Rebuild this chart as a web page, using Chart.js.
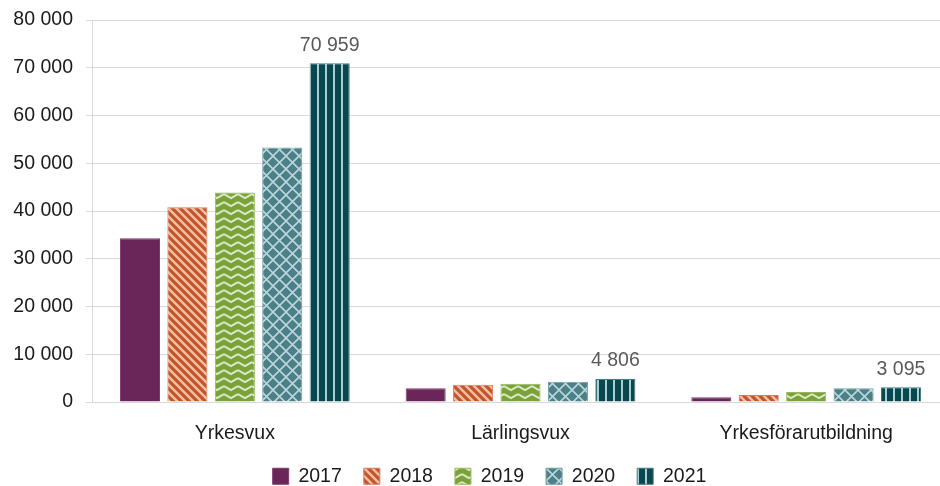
<!DOCTYPE html>
<html>
<head>
<meta charset="utf-8">
<script src="https://cdn.jsdelivr.net/npm/chart.js@4/dist/chart.umd.min.js"></script>
<style>
  html, body { margin: 0; padding: 0; background: #fff; overflow: hidden; }
  canvas { display: block; }
</style>
</head>
<body>
<canvas id="chart" width="949" height="496"></canvas>
<script>
const categories = ["Yrkesvux", "Lärlingsvux", "Yrkesförarutbildning"];
const years = ["2017", "2018", "2019", "2020", "2021"];
const v2017 = [34300, 2900, 1000];
const v2018 = [40800, 3600, 1450];
const v2019 = [43900, 3800, 2100];
const v2020 = [53300, 4250, 2900];
const v2021 = [70959, 4806, 3095];
const yTicks = [0, 10000, 20000, 30000, 40000, 50000, 60000, 70000, 80000];

const FONT = "'Liberation Sans', Arial, sans-serif";

function fmt(v) {
    return String(v).replace(/\B(?=(\d{3})+(?!\d))/g, " ");
}

function makePattern(w, h, base, draw) {
    const c = document.createElement("canvas");
    c.width = w; c.height = h;
    const x = c.getContext("2d");
    x.fillStyle = base;
    x.fillRect(0, 0, w, h);
    draw(x);
    return x.createPattern(c, "repeat");
}

// 2018: diagonal stripes
const pat2018 = makePattern(8, 8, "#c4552a", x => {
    x.strokeStyle = "#f0c0a8";
    x.lineWidth = 2.4;
    x.beginPath();
    x.moveTo(-2, -2); x.lineTo(10, 10);
    x.moveTo(-10, -2); x.lineTo(2, 10);
    x.moveTo(6, -2); x.lineTo(18, 10);
    x.stroke();
});

// 2019: zigzag waves
const pat2019 = makePattern(14, 8, "#7ba23a", x => {
    x.strokeStyle = "#dbe9c2";
    x.lineWidth = 2;
    x.beginPath();
    x.moveTo(0, 2); x.lineTo(7, 6); x.lineTo(14, 2);
    x.stroke();
});

// 2020: diamond lattice
const pat2020 = makePattern(13, 13, "#4b8089", x => {
    x.strokeStyle = "#bcd6da";
    x.lineWidth = 1.6;
    x.beginPath();
    x.moveTo(0, 0); x.lineTo(13, 13);
    x.moveTo(13, 0); x.lineTo(0, 13);
    x.stroke();
});

// 2021: vertical stripes
const pat2021 = makePattern(8, 4, "#0a4850", x => {
    x.fillStyle = "#a9cfd4";
    x.fillRect(5, 0, 2, 4);
});

const fills = ["#6a2659", pat2018, pat2019, pat2020, pat2021];
const borders = ["#7d3a6c", "#d77a55", "#94b862", "#6e9aa2", "#3f7c83"];
const series = [v2017, v2018, v2019, v2020, v2021];

const lastLabels = {
    id: "lastLabels",
    afterLayout(chart) {
        // nudge the legend a bit to the right, like the original
        chart.legend.left = 30;
    },
    afterDatasetsDraw(chart) {
        const ctx = chart.ctx;
        const i = chart.data.datasets.length - 1;
        const meta = chart.getDatasetMeta(i);
        ctx.save();
        ctx.font = "19.5px " + FONT;
        ctx.fillStyle = "#595959";
        ctx.textAlign = "center";
        ctx.textBaseline = "middle";
        meta.data.forEach((bar, j) => {
            ctx.fillText(fmt(chart.data.datasets[i].data[j]), bar.x, bar.y - 18);
        });
        ctx.restore();
    }
};

new Chart(document.getElementById("chart"), {
    type: "bar",
    data: {
        labels: categories,
        datasets: years.map((y, k) => ({
            label: y,
            data: series[k],
            backgroundColor: fills[k],
            borderColor: borders[k],
            borderWidth: 1,
            categoryPercentage: 0.83,
            barPercentage: 0.845
        }))
    },
    options: {
        responsive: false,
        animation: false,
        layout: { padding: { top: 20, left: 0, right: 0, bottom: 0 } },
        plugins: {
            tooltip: { enabled: false },
            legend: {
                position: "bottom",
                labels: {
                    boxWidth: 16,
                    boxHeight: 16,
                    padding: 22,
                    color: "#1a1a1a",
                    font: { family: FONT, size: 19.5 }
                }
            }
        },
        scales: {
            x: {
                grid: { display: false },
                border: { display: true, color: "#d9d9d9" },
                ticks: { color: "#1a1a1a", padding: 12, font: { family: FONT, size: 19.5 } },
                afterFit(scale) { scale.height = 42.5; }
            },
            y: {
                min: 0,
                max: 80000,
                afterBuildTicks(scale) { scale.ticks = yTicks.map(v => ({ value: v })); },
                grid: { color: "#d9d9d9", tickLength: 6 },
                border: { color: "#d9d9d9" },
                ticks: {
                    color: "#1a1a1a",
                    padding: 13,
                    font: { family: FONT, size: 19.5 },
                    callback: v => fmt(v)
                },
                afterFit(scale) {
                    scale.width = 92;
                    scale.paddingTop = 0;
                    scale.paddingBottom = 0;
                }
            }
        }
    },
    plugins: [lastLabels]
});
</script>
</body>
</html>
